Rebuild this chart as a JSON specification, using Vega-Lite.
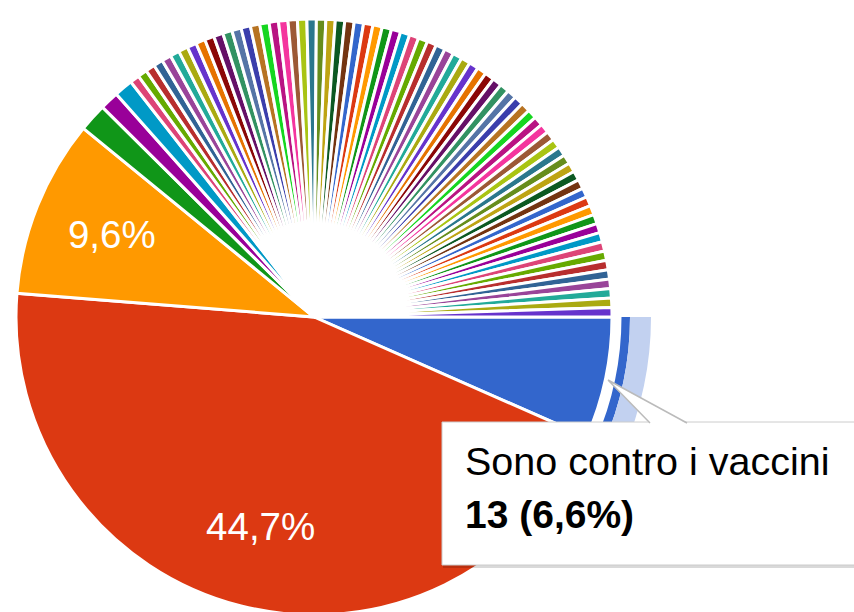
{
  "$schema": "https://vega.github.io/schema/vega-lite/v6.json",
  "width": 854,
  "height": 612,
  "padding": 0,
  "autosize": {"type": "none"},
  "background": "#ffffff",
  "config": {"view": {"stroke": null}},
  "layer": [
    {
      "data": {"name": "risposte"},
      "mark": {"type": "arc", "x": 314, "y": 317, "outerRadius": 298, "stroke": "#ffffff", "strokeWidth": 3},
      "encoding": {
        "theta": {"field": "n", "type": "quantitative", "stack": true, "scale": {"range": [1.5707963, 7.8539816]}},
        "order": {"field": "i", "type": "quantitative"},
        "color": {"field": "i", "type": "ordinal", "legend": null, "scale": {"range": ["#3366cc","#dc3912","#ff9900","#109618","#990099","#0099c6","#dd4477","#66aa00","#b82e2e","#316395","#994499","#22aa99","#aaaa11","#6633cc","#e67300","#8b0707","#651067","#329262","#5574a6","#3b3eac","#b77322","#16d620","#b91383","#f4359e","#9c5935","#a9c413","#2a778d","#668d1c","#bea413","#0c5922","#743411","#3366cc","#dc3912","#ff9900","#109618","#990099","#0099c6","#dd4477","#66aa00","#b82e2e","#316395","#994499","#22aa99","#aaaa11","#6633cc","#e67300","#8b0707","#651067","#329262","#5574a6","#3b3eac","#b77322","#16d620","#b91383","#f4359e","#9c5935","#a9c413","#2a778d","#668d1c","#bea413","#0c5922","#743411","#3366cc","#dc3912","#ff9900","#109618","#990099","#0099c6","#dd4477","#66aa00","#b82e2e","#316395","#994499","#22aa99","#aaaa11","#6633cc"]}}
      }
    },
    {
      "data": {"name": "risposte"},
      "mark": {"type": "arc", "x": 314, "y": 317, "innerRadius": 307.5, "outerRadius": 316},
      "encoding": {
        "theta": {"field": "n", "type": "quantitative", "stack": true},
        "order": {"field": "i", "type": "quantitative"},
        "fill": {"condition": {"test": "datum.i === 0", "value": "#3366cc"}, "value": "transparent"}
      }
    },
    {
      "data": {"name": "risposte"},
      "mark": {"type": "arc", "x": 314, "y": 317, "innerRadius": 316, "outerRadius": 337},
      "encoding": {
        "theta": {"field": "n", "type": "quantitative", "stack": true},
        "order": {"field": "i", "type": "quantitative"},
        "fill": {"condition": {"test": "datum.i === 0", "value": "#c2d1f0"}, "value": "transparent"}
      }
    },
    {
      "data": {"name": "risposte"},
      "mark": {"type": "text", "x": 314, "y": 317, "radius": 218, "font": "Liberation Sans", "fontSize": 38.5, "fill": "#ffffff", "align": "center", "baseline": "middle"},
      "encoding": {
        "theta": {"field": "n", "type": "quantitative", "stack": true},
        "order": {"field": "i", "type": "quantitative"},
        "text": {"field": "lab", "type": "nominal"}
      }
    },
    {
      "data": {"name": "tooltip"},
      "mark": {"type": "rect", "x": 443, "y": 424, "x2": 890, "y2": 568, "fill": "#000000", "opacity": 0.15},
      "encoding": {}
    },
    {
      "data": {"name": "tooltip"},
      "mark": {"type": "rect", "x": 442, "y": 422, "x2": 890, "y2": 565, "fill": "#ffffff", "stroke": "#cccccc", "strokeWidth": 1},
      "encoding": {}
    },
    {
      "data": {"name": "tooltip"},
      "mark": {"type": "point", "x": 647.5, "y": 401.5, "size": 6241, "shape": "M-1,-0.544L0.063,0.57L1,0.57Z", "filled": true, "fill": "#ffffff", "opacity": 1, "strokeWidth": 0},
      "encoding": {}
    },
    {
      "data": {"name": "tooltip"},
      "mark": {"type": "point", "x": 647.5, "y": 401.5, "size": 6241, "shape": "M-1,-0.544L0.063,0.544M-1,-0.544L1,0.544", "filled": false, "stroke": "#bbbbbb", "strokeWidth": 1.5, "opacity": 1},
      "encoding": {}
    },
    {
      "data": {"name": "tooltip"},
      "mark": {"type": "text", "x": 465, "y": 475, "font": "Liberation Sans", "fontSize": 39.5, "fill": "#000000", "align": "left", "baseline": "alphabetic"},
      "encoding": {"text": {"field": "titolo", "type": "nominal"}}
    },
    {
      "data": {"name": "tooltip"},
      "mark": {"type": "text", "x": 465, "y": 528, "font": "Liberation Sans", "fontSize": 39, "fontWeight": "bold", "fill": "#000000", "align": "left", "baseline": "alphabetic"},
      "encoding": {"text": {"field": "valore", "type": "nominal"}}
    }
  ],
  "datasets": {
    "tooltip": [{"titolo": "Sono contro i vaccini", "valore": "13 (6,6%)"}],
    "risposte": [
      {"i": 0, "risposta": "Sono contro i vaccini", "n": 13, "lab": ""},
      {"i": 1, "risposta": "Risposta 2", "n": 88, "lab": "44,7%"},
      {"i": 2, "risposta": "Risposta 3", "n": 19, "lab": "9,6%"},
      {"i": 3, "risposta": "Risposta 4", "n": 3, "lab": ""},
      {"i": 4, "risposta": "Risposta 5", "n": 2, "lab": ""},
      {"i": 5, "risposta": "Risposta 6", "n": 2, "lab": ""},
      {"i": 6, "risposta": "Risposta 7", "n": 1, "lab": ""},
      {"i": 7, "risposta": "Risposta 8", "n": 1, "lab": ""},
      {"i": 8, "risposta": "Risposta 9", "n": 1, "lab": ""},
      {"i": 9, "risposta": "Risposta 10", "n": 1, "lab": ""},
      {"i": 10, "risposta": "Risposta 11", "n": 1, "lab": ""},
      {"i": 11, "risposta": "Risposta 12", "n": 1, "lab": ""},
      {"i": 12, "risposta": "Risposta 13", "n": 1, "lab": ""},
      {"i": 13, "risposta": "Risposta 14", "n": 1, "lab": ""},
      {"i": 14, "risposta": "Risposta 15", "n": 1, "lab": ""},
      {"i": 15, "risposta": "Risposta 16", "n": 1, "lab": ""},
      {"i": 16, "risposta": "Risposta 17", "n": 1, "lab": ""},
      {"i": 17, "risposta": "Risposta 18", "n": 1, "lab": ""},
      {"i": 18, "risposta": "Risposta 19", "n": 1, "lab": ""},
      {"i": 19, "risposta": "Risposta 20", "n": 1, "lab": ""},
      {"i": 20, "risposta": "Risposta 21", "n": 1, "lab": ""},
      {"i": 21, "risposta": "Risposta 22", "n": 1, "lab": ""},
      {"i": 22, "risposta": "Risposta 23", "n": 1, "lab": ""},
      {"i": 23, "risposta": "Risposta 24", "n": 1, "lab": ""},
      {"i": 24, "risposta": "Risposta 25", "n": 1, "lab": ""},
      {"i": 25, "risposta": "Risposta 26", "n": 1, "lab": ""},
      {"i": 26, "risposta": "Risposta 27", "n": 1, "lab": ""},
      {"i": 27, "risposta": "Risposta 28", "n": 1, "lab": ""},
      {"i": 28, "risposta": "Risposta 29", "n": 1, "lab": ""},
      {"i": 29, "risposta": "Risposta 30", "n": 1, "lab": ""},
      {"i": 30, "risposta": "Risposta 31", "n": 1, "lab": ""},
      {"i": 31, "risposta": "Risposta 32", "n": 1, "lab": ""},
      {"i": 32, "risposta": "Risposta 33", "n": 1, "lab": ""},
      {"i": 33, "risposta": "Risposta 34", "n": 1, "lab": ""},
      {"i": 34, "risposta": "Risposta 35", "n": 1, "lab": ""},
      {"i": 35, "risposta": "Risposta 36", "n": 1, "lab": ""},
      {"i": 36, "risposta": "Risposta 37", "n": 1, "lab": ""},
      {"i": 37, "risposta": "Risposta 38", "n": 1, "lab": ""},
      {"i": 38, "risposta": "Risposta 39", "n": 1, "lab": ""},
      {"i": 39, "risposta": "Risposta 40", "n": 1, "lab": ""},
      {"i": 40, "risposta": "Risposta 41", "n": 1, "lab": ""},
      {"i": 41, "risposta": "Risposta 42", "n": 1, "lab": ""},
      {"i": 42, "risposta": "Risposta 43", "n": 1, "lab": ""},
      {"i": 43, "risposta": "Risposta 44", "n": 1, "lab": ""},
      {"i": 44, "risposta": "Risposta 45", "n": 1, "lab": ""},
      {"i": 45, "risposta": "Risposta 46", "n": 1, "lab": ""},
      {"i": 46, "risposta": "Risposta 47", "n": 1, "lab": ""},
      {"i": 47, "risposta": "Risposta 48", "n": 1, "lab": ""},
      {"i": 48, "risposta": "Risposta 49", "n": 1, "lab": ""},
      {"i": 49, "risposta": "Risposta 50", "n": 1, "lab": ""},
      {"i": 50, "risposta": "Risposta 51", "n": 1, "lab": ""},
      {"i": 51, "risposta": "Risposta 52", "n": 1, "lab": ""},
      {"i": 52, "risposta": "Risposta 53", "n": 1, "lab": ""},
      {"i": 53, "risposta": "Risposta 54", "n": 1, "lab": ""},
      {"i": 54, "risposta": "Risposta 55", "n": 1, "lab": ""},
      {"i": 55, "risposta": "Risposta 56", "n": 1, "lab": ""},
      {"i": 56, "risposta": "Risposta 57", "n": 1, "lab": ""},
      {"i": 57, "risposta": "Risposta 58", "n": 1, "lab": ""},
      {"i": 58, "risposta": "Risposta 59", "n": 1, "lab": ""},
      {"i": 59, "risposta": "Risposta 60", "n": 1, "lab": ""},
      {"i": 60, "risposta": "Risposta 61", "n": 1, "lab": ""},
      {"i": 61, "risposta": "Risposta 62", "n": 1, "lab": ""},
      {"i": 62, "risposta": "Risposta 63", "n": 1, "lab": ""},
      {"i": 63, "risposta": "Risposta 64", "n": 1, "lab": ""},
      {"i": 64, "risposta": "Risposta 65", "n": 1, "lab": ""},
      {"i": 65, "risposta": "Risposta 66", "n": 1, "lab": ""},
      {"i": 66, "risposta": "Risposta 67", "n": 1, "lab": ""},
      {"i": 67, "risposta": "Risposta 68", "n": 1, "lab": ""},
      {"i": 68, "risposta": "Risposta 69", "n": 1, "lab": ""},
      {"i": 69, "risposta": "Risposta 70", "n": 1, "lab": ""},
      {"i": 70, "risposta": "Risposta 71", "n": 1, "lab": ""},
      {"i": 71, "risposta": "Risposta 72", "n": 1, "lab": ""},
      {"i": 72, "risposta": "Risposta 73", "n": 1, "lab": ""},
      {"i": 73, "risposta": "Risposta 74", "n": 1, "lab": ""},
      {"i": 74, "risposta": "Risposta 75", "n": 1, "lab": ""},
      {"i": 75, "risposta": "Risposta 76", "n": 1, "lab": ""}
    ]
  }
}
